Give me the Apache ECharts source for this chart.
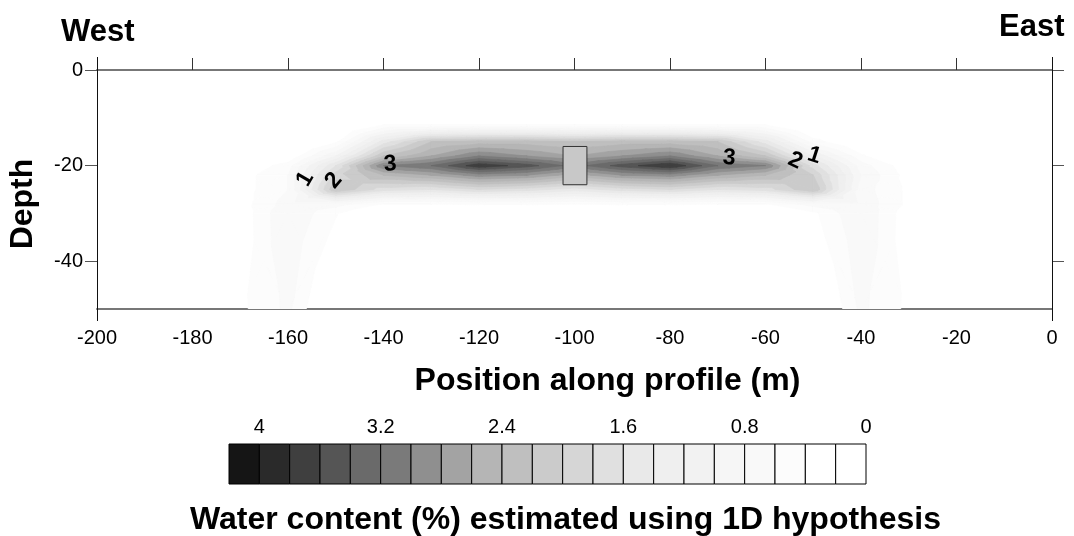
<!DOCTYPE html>
<html><head><meta charset="utf-8">
<style>html,body{margin:0;padding:0;background:#fff}#c{width:1074px;height:536px}</style>
<script src="https://cdn.jsdelivr.net/npm/echarts@6/dist/echarts.min.js"></script>
</head><body><div id="c"></div>
<script>
// Field nodes
const positions = [-180,-170,-160,-150,-140,-130,-120,-110,-100,-90,-80,-70,-60,-50,-40,-30,-20];
const depths = [-10,-11.5,-15,-18,-20,-22,-25,-28,-30,-50];
const row10 = [0,0,0,0,0,0,0,0,0,0,0,0,0,0,0,0,0];
const row11 = [0,0,0,0,0.4,0.4,0.4,0.4,0.4,0.4,0.4,0.4,0.4,0,0,0,0];
const row15 = [0,0,0,0.35,1.5,2.2,2.3,2.3,2.2,2.3,2.3,2.2,1.5,0.5,0.1,0,0];
const row18 = [0,0,0.2,1.0,2.2,2.6,3.0,2.8,2.6,2.8,3.0,2.6,2.2,1.2,0.45,0,0];
const row20 = [0,0.2,0.5,1.6,3.0,3.2,3.75,3.5,3.1,3.5,3.8,3.2,3.0,1.7,0.7,0.25,0];
const row22 = [0,0.3,0.6,1.9,2.4,2.6,2.9,2.8,2.5,2.8,2.9,2.6,2.4,2.0,0.8,0.3,0];
const row25 = [0,0.3,0.6,2.2,1.7,1.6,1.8,1.7,1.5,1.7,1.8,1.6,1.7,2.2,0.7,0.35,0];
const row28 = [0,0.3,0.7,0.7,0.4,0.4,0.45,0.45,0.4,0.45,0.45,0.4,0.4,0.7,0.75,0.35,0];
const row30 = [0,0.25,0.8,0.42,0,0,0,0,0,0,0,0,0,0.35,0.8,0.25,0];
const row50 = [0,0.35,0.65,0,0,0,0,0,0,0,0,0,0,0,0.65,0.35,0];
const fieldRows = [row10,row11,row15,row18,row20,row22,row25,row28,row30,row50];

// Scale bar
const scaleLower = [4,3.8,3.6,3.4,3.2,3,2.8,2.6,2.4,2.2,2,1.8,1.6,1.4,1.2,1,0.8,0.6,0.4,0.2,0];
const scaleTicks = [0,0.8,1.6,2.4,3.2,4];
const scaleGray = ['#151515','#2a2a2a','#3f3f3f','#555555','#6a6a6a','#7a7a7a','#8f8f8f','#a3a3a3','#b5b5b5','#bfbfbf','#cbcbcb','#d6d6d6','#e0e0e0','#e9e9e9','#efefef','#f2f2f2','#f6f6f6','#f9f9f9','#fcfcfc','#ffffff','#ffffff'];

// Axis ticks
const depthTicks = [0,-20,-40];
const cornerTicks = [-200,0];
const cornerDepths = [0,-50];

// Instrument box and contour annotations
const boxX = [-102.4,-97.4], boxZ = [-16,-24];
const labelX = [-156.4,-150.4,-138.6,-67.6,-53.8,-49.8];
const labelZ = [-22.8,-23.1,-19.7,-18.4,-19.0,-17.9];
const labelText = ['1','2','3','3','2','1'];
const labelRot = [60,50,4,-5,-25,-18];

const font = '"Liberation Sans", Arial, sans-serif';

function triangles(){
  const out=[];
  const v=(i,j)=>fieldRows[j][i];
  for(let j=0;j<depths.length-1;j++)for(let i=0;i<positions.length-1;i++){
    const a=[positions[i],depths[j],v(i,j)],b=[positions[i+1],depths[j],v(i+1,j)],
          c=[positions[i+1],depths[j+1],v(i+1,j+1)],d=[positions[i],depths[j+1],v(i,j+1)];
    const m=[(a[0]+b[0])/2,(a[1]+d[1])/2,(a[2]+b[2]+c[2]+d[2])/4];
    out.push([a,b,m],[b,c,m],[c,d,m],[d,a,m]);
  }
  return out;
}
const tris=triangles();
function clipAbove(t,lv){
  const r=[];
  for(let k=0;k<3;k++){
    const p=t[k],q=t[(k+1)%3];
    if(p[2]>=lv)r.push(p);
    if((p[2]>=lv)!==(q[2]>=lv)){
      const f=(lv-p[2])/(q[2]-p[2]);
      r.push([p[0]+f*(q[0]-p[0]),p[1]+f*(q[1]-p[1]),lv]);
    }
  }
  return r;
}
const levelData=scaleLower.map((l,i)=>[l,i]).filter(d=>d[0]>=0.4).reverse();
const hAxisLine={show:true,onZero:false,lineStyle:{color:'#777',width:2}};
const vAxisLine={show:true,onZero:false,lineStyle:{color:'#111',width:1}};
const tickStyle={color:'#555',width:1};

const option={
  animation:false,
  backgroundColor:'#fff',
  textStyle:{fontFamily:font},
  title:[
    {text:'West',left:56,top:12,textStyle:{fontFamily:font,fontSize:31,fontWeight:'bold',color:'#000'}},
    {text:'East',left:994,top:7,textStyle:{fontFamily:font,fontSize:31,fontWeight:'bold',color:'#000'}},
    {text:'Water content (%) estimated using 1D hypothesis',left:185,top:499,textStyle:{fontFamily:font,fontSize:32,fontWeight:'bold',color:'#000'}}
  ],
  grid:[
    {left:97,top:70,width:955,height:239,outerBoundsMode:'none'},
    {left:229,top:444,width:637,height:40,outerBoundsMode:'none'}
  ],
  xAxis:[
    {gridIndex:0,type:'value',min:-200,max:0,interval:20,position:'bottom',
     axisLine:hAxisLine,axisTick:{show:false},
     axisLabel:{margin:19,fontSize:20,color:'#000',fontFamily:font},splitLine:{show:false},
     name:'Position along profile (m)',nameLocation:'middle',nameGap:56,
     nameTextStyle:{fontFamily:font,fontSize:32,fontWeight:'bold',color:'#000',padding:[0,0,0,66]}},
    {gridIndex:0,type:'value',min:-200,max:0,interval:20,position:'top',
     axisLine:hAxisLine,
     axisTick:{show:true,inside:false,length:12,lineStyle:{color:'#333',width:1}},
     axisLabel:{show:false},splitLine:{show:false}},
    {gridIndex:1,type:'value',min:0,max:4.2,interval:0.8,inverse:true,position:'top',
     axisLine:{show:false},axisTick:{show:false},
     axisLabel:{margin:7,fontSize:20,color:'#000',fontFamily:font,customValues:scaleTicks},splitLine:{show:false}}
  ],
  yAxis:[
    {gridIndex:0,type:'value',min:-50,max:0,position:'left',
     axisLine:vAxisLine,
     axisTick:{show:true,length:12,customValues:depthTicks,lineStyle:tickStyle},
     axisLabel:{margin:14,fontSize:20,color:'#000',fontFamily:font,customValues:depthTicks},splitLine:{show:false},
     name:'Depth',nameLocation:'middle',nameGap:58,nameRotate:90,
     nameTextStyle:{fontFamily:font,fontSize:32,fontWeight:'bold',color:'#000',padding:[0,29,0,0]}},
    {gridIndex:0,type:'value',min:-50,max:0,position:'right',
     axisLine:vAxisLine,
     axisTick:{show:true,length:12,customValues:depthTicks,lineStyle:tickStyle},
     axisLabel:{show:false},splitLine:{show:false}},
    {gridIndex:1,type:'value',min:0,max:1,show:false}
  ],
  series:[
    {type:'custom',name:'field',xAxisIndex:0,yAxisIndex:0,coordinateSystem:'cartesian2d',silent:true,clip:true,
     data:levelData,encode:{x:-1,y:-1},
     renderItem(params,api){
       const lv=api.value(0),col=scaleGray[api.value(1)];
       const kids=[];
       for(const t of tris){
         if(Math.max(t[0][2],t[1][2],t[2][2])<lv)continue;
         const poly=clipAbove(t,lv);
         if(poly.length<3)continue;
         kids.push({type:'polygon',shape:{points:poly.map(p=>api.coord([p[0],p[1]]))},
           style:{fill:col,stroke:col,lineWidth:0.6},silent:true});
       }
       return {type:'group',children:kids};
     }},
    {type:'custom',name:'corners',xAxisIndex:0,yAxisIndex:0,silent:true,clip:false,
     data:cornerTicks.map(x=>[x]),encode:{x:0},
     renderItem(params,api){
       const a=api.coord([api.value(0),cornerDepths[0]]),b=api.coord([api.value(0),cornerDepths[1]]);
       const x=Math.round(a[0])+0.5;
       return {type:'line',shape:{x1:x,y1:a[1]-13,x2:x,y2:b[1]+12},style:{stroke:'#111',lineWidth:1}};
     }},
    {type:'custom',name:'box',xAxisIndex:0,yAxisIndex:0,silent:true,
     data:[[boxX[0],boxZ[0],boxX[1],boxZ[1]]],encode:{x:[0,2],y:[1,3]},
     renderItem(params,api){
       const a=api.coord([api.value(0),api.value(1)]),b=api.coord([api.value(2),api.value(3)]);
       return {type:'rect',shape:{x:a[0],y:a[1],width:b[0]-a[0],height:b[1]-a[1]},
         style:{fill:'#c8c8c8',stroke:'#333',lineWidth:1}};
     }},
    {type:'custom',name:'labels',xAxisIndex:0,yAxisIndex:0,silent:true,
     data:labelX.map((x,i)=>[x,labelZ[i],i]),encode:{x:0,y:1},
     renderItem(params,api){
       const p=api.coord([api.value(0),api.value(1)]),i=api.value(2);
       return {type:'text',x:p[0],y:p[1],rotation:labelRot[i]*Math.PI/180,
         style:{text:labelText[i],fontFamily:font,fontSize:23,fontWeight:'bold',fill:'#000',align:'center',verticalAlign:'middle'}};
     }},
    {type:'custom',name:'scale',xAxisIndex:2,yAxisIndex:2,silent:true,
     data:scaleLower.map((l,i)=>[l,i]),encode:{x:0},
     renderItem(params,api){
       const l=api.value(0),a=api.coord([l+0.2,1]),b=api.coord([l,0]);
       return {type:'rect',shape:{x:a[0],y:a[1],width:b[0]-a[0],height:b[1]-a[1]},
         style:{fill:scaleGray[api.value(1)],stroke:'#000',lineWidth:1}};
     }}
  ]
};
echarts.init(document.getElementById('c'),null,{renderer:'canvas'}).setOption(option);
</script></body></html>
